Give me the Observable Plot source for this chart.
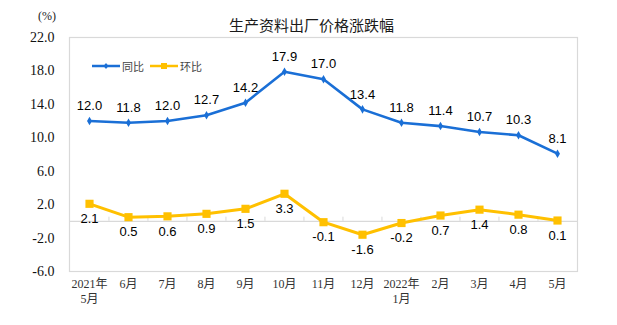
<!DOCTYPE html>
<html>
<head>
<meta charset="utf-8">
<script src="https://cdn.jsdelivr.net/npm/d3@7"></script>
<script src="https://cdn.jsdelivr.net/npm/@observablehq/plot@0.6"></script>
<style>
  html, body { margin: 0; padding: 0; background: #fff; }
  #wrap { position: relative; width: 617px; height: 325px; overflow: hidden; }
  #title { position: absolute; left: 3px; width: 617px; top: 15px; text-align: center;
    font-family: "Noto Sans CJK SC", sans-serif; font-size: 15px; color: #1a1a1a; line-height: 20px; }
  #unit { position: absolute; left: 38px; top: 9px; font-family: "Liberation Serif", serif; font-size: 12px; color: #222; }
  #legend { position: absolute; left: 92px; top: 58px; display: flex; align-items: center;
    font-family: "Noto Sans CJK SC", sans-serif; font-size: 11px; color: #444; }
  #legend span.item { display: flex; align-items: center; margin-right: 6px; }
  #legend svg { margin-right: 2px; }
  svg.plot { position: absolute; left: 0; top: 0; }
</style>
</head>
<body>
<div id="wrap">
  <div id="unit">(%)</div>
  <div id="title"></div>
  <div id="legend"></div>
</div>
<script>
const title = "生产资料出厂价格涨跌幅";
const categories = ["2021-05","2021-06","2021-07","2021-08","2021-09","2021-10","2021-11","2021-12","2022-01","2022-02","2022-03","2022-04","2022-05"];
const tickLabels = ["2021年\n5月","6月","7月","8月","9月","10月","11月","12月","2022年\n1月","2月","3月","4月","5月"];
const yoyName = "同比";
const momName = "环比";
const yoy = [12.0, 11.8, 12.0, 12.7, 14.2, 17.9, 17.0, 13.4, 11.8, 11.4, 10.7, 10.3, 8.1];
const mom = [2.1, 0.5, 0.6, 0.9, 1.5, 3.3, -0.1, -1.6, -0.2, 0.7, 1.4, 0.8, 0.1];
const yTicks = [-6, -2, 2, 6, 10, 14, 18, 22];

const blue = "#1a6fd6";
const yellow = "#ffc000";

const yoyData = categories.map((c, i) => ({cat: c, v: yoy[i]}));
const momData = categories.map((c, i) => ({cat: c, v: mom[i]}));
const labelOf = new Map(categories.map((c, i) => [c, tickLabels[i]]));

const W = 617, H = 325, mL = 69, mR = 40;
const step = (W - mL - mR) / categories.length;

document.getElementById("title").textContent = title;
document.getElementById("legend").innerHTML =
  `<span class="item"><svg width="28" height="10"><line x1="0" y1="5" x2="28" y2="5" stroke="${blue}" stroke-width="2.5"/><path d="M14,2 L16.5,5 L14,8 L11.5,5Z" fill="${blue}"/></svg>${yoyName}</span>` +
  `<span class="item"><svg width="28" height="10"><line x1="0" y1="5" x2="28" y2="5" stroke="${yellow}" stroke-width="2.5"/><rect x="11" y="2" width="6" height="6" fill="${yellow}"/></svg>${momName}</span>`;

const plot = Plot.plot({
  width: W,
  height: H,
  marginLeft: mL,
  marginRight: mR,
  marginTop: 37,
  marginBottom: 54,
  x: {type: "point", domain: categories, padding: 0.5, label: null},
  y: {domain: [-6, 22], label: null},
  marks: [
    Plot.frame({stroke: "#d9d9d9", strokeWidth: 1.2}),
    Plot.ruleY([0], {stroke: "#d9d9d9", strokeWidth: 1.2}),
    Plot.ruleX(categories.slice(1), {x: d => d, y1: 0, y2: 0.5, dx: -step / 2, stroke: "#d9d9d9"}),
    Plot.axisY({ticks: yTicks, tickSize: 0, tickPadding: 15, tickFormat: d => d.toFixed(1), label: null,
      fontSize: 14, fontFamily: "Liberation Serif, serif", fill: "#111"}),
    Plot.axisX({tickSize: 0, tickPadding: 6, tickFormat: d => labelOf.get(d), label: null,
      fontSize: 12, fontFamily: "Liberation Serif, 'Noto Sans CJK SC', serif", fill: "#333", lineHeight: 1.25}),
    Plot.line(momData, {x: "cat", y: "v", stroke: yellow, strokeWidth: 3}),
    Plot.dot(momData, {x: "cat", y: "v", symbol: "square", r: 4.6, fill: yellow}),
    Plot.line(yoyData, {x: "cat", y: "v", stroke: blue, strokeWidth: 2.6}),
    Plot.dot(yoyData, {x: "cat", y: "v", symbol: "diamond", r: 2.6, fill: blue}),
    Plot.text(yoyData, {x: "cat", y: "v", text: d => d.v.toFixed(1), dy: -15,
      fontSize: 13, fontFamily: "Liberation Sans, Arial, sans-serif", fill: "#000"}),
    Plot.text(momData, {x: "cat", y: "v", text: d => d.v.toFixed(1), dy: 15,
      fontSize: 13, fontFamily: "Liberation Sans, Arial, sans-serif", fill: "#000"})
  ]
});
document.getElementById("wrap").appendChild(plot);
</script>
</body>
</html>
